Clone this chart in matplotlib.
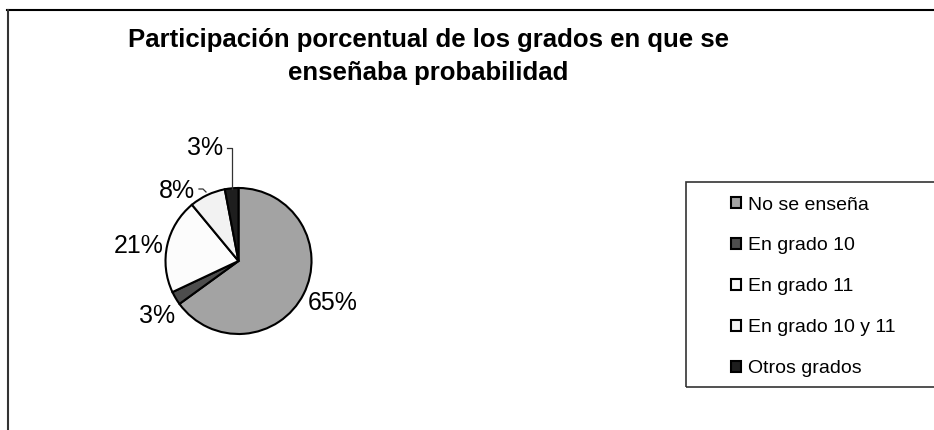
import matplotlib
matplotlib.use("Agg")
import matplotlib.pyplot as plt
from matplotlib.lines import Line2D
from matplotlib.patches import Rectangle

plt.rcParams['font.family'] = ['Liberation Sans', 'DejaVu Sans']

title_lines = ["Participación porcentual de los grados en que se",
               "enseñaba probabilidad"]
categories = ["No se enseña", "En grado 10", "En grado 11", "En grado 10 y 11", "Otros grados"]
values = [65, 3, 21, 8, 3]
value_labels = ["65%", "3%", "21%", "8%", "3%"]
colors = ["#a3a3a3", "#4d4d4d", "#fcfcfc", "#f2f2f2", "#1e1e1e"]

W, H = 934, 430
fig = plt.figure(figsize=(W / 100, H / 100), dpi=100)
fig.patch.set_facecolor("white")
ax = fig.add_axes([0, 0, 1, 1])

cx, cy, r = 238.5, H - 261, 73
wedges, _ = ax.pie(values, colors=colors, startangle=90, counterclock=False,
                   center=(cx, cy), radius=r,
                   wedgeprops=dict(edgecolor="black", linewidth=1.5))
ax.set_xlim(0, W)
ax.set_ylim(0, H)
ax.set_aspect("equal")
ax.set_axis_off()

# label positions (pixels, y from top)
label_pos = [(333, 303), (157, 316), (139, 246), (177, 191), (205, 148)]
for (x, y), t in zip(label_pos, value_labels):
    ax.text(x, H - y, t, fontsize=18, ha="center", va="center", color="black")

# leader lines
ax.plot([227, 232, 232], [H - 148, H - 148, H - 189], color="#333333", lw=0.9)
ax.plot([199, 203, 206], [H - 189, H - 189, H - 192], color="#333333", lw=0.9)

# titles
fig.text(429 / W, 1 - 47 / H, title_lines[0], fontsize=18.5, fontweight="bold",
         ha="center", va="baseline")
fig.text(428 / W, 1 - 80 / H, title_lines[1], fontsize=18.5, fontweight="bold",
         ha="center", va="baseline")

# outer frame (top and left)
fig.add_artist(Line2D([7 / W, 1.0], [1 - 9.5 / H, 1 - 9.5 / H],
                      transform=fig.transFigure, color="black", lw=1.5))
fig.add_artist(Line2D([7.5 / W, 7.5 / W], [1 - 9.5 / H, 0],
                      transform=fig.transFigure, color="#333333", lw=1.5))

# legend box
fig.add_artist(Rectangle((685.5 / W, 1 - 386.5 / H), (960 - 685.5) / W, (386.5 - 182) / H,
                         transform=fig.transFigure, facecolor="none",
                         edgecolor="#333333", lw=1.2))

fig.legend(wedges, categories, loc="upper left",
           bbox_to_anchor=(731 / W, 1 - 196.5 / H), frameon=False,
           fontsize=14, handlelength=0.5, handleheight=0.5, handletextpad=0.35,
           labelspacing=1.23, borderpad=0, borderaxespad=0)

fig.savefig("out.png", dpi=100, facecolor="white")
